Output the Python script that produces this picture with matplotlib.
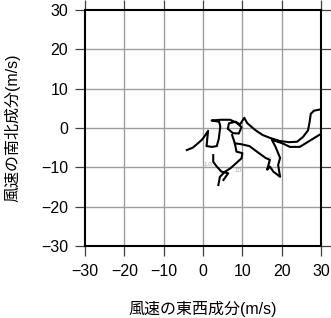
import matplotlib
matplotlib.use("Agg")
import matplotlib.pyplot as plt

plt.rcParams['font.family'] = ['Liberation Sans', 'Noto Sans CJK JP', 'DejaVu Sans']

# hodograph (u: east-west, v: north-south), m/s
u_main = [-4.1, -2.6, -1.3, -0.2, 0.6, 1.3, 1.1, 0.9, 2.3, 3.5, 4.0, 4.2, 4.4, 4.1,
          2.2, 4.5, 6.9, 8.6, 9.8, 9.1, 7.6, 6.3, 6.6, 8.3, 9.4, 10.5,
          11.2, 12.2, 13.4, 15.2, 17.0, 19.5, 21.8, 23.9, 25.4, 26.7, 27.1, 27.4, 28.2, 29.7]
v_main = [-5.6, -5.0, -3.9, -2.9, -1.8, -0.7, -2.6, -4.6, -4.8, -4.6, -2.8, -1.2, 0.4, 1.6,
          1.9, 2.1, 2.1, 1.3, 0.2, -1.4, -1.3, -0.2, 1.2, 1.6, 0.9, 2.6,
          1.3, 0.4, -0.6, -1.8, -2.5, -3.3, -3.6, -3.5, -2.3, -0.6, 1.5, 3.6, 4.4, 4.7]

u_wedge = [8.1, 9.6, 11.8, 14.1, 15.9, 17.0, 16.3, 17.0, 17.9, 19.6, 19.1, 19.6, 18.4, 17.5,
           20.2, 22.1, 24.6, 27.2, 29.0, 30.0]
v_wedge = [-3.9, -4.1, -4.6, -6.3, -7.6, -8.1, -10.6, -9.8, -11.1, -12.4, -9.4, -7.6, -4.7, -3.0,
           -3.9, -4.8, -4.8, -3.2, -2.1, -1.5]

u_drop = [7.4, 8.1, 8.5, 10.0, 9.8, 6.9, 5.6, 4.3, 3.9]
v_drop = [-1.8, -3.9, -6.0, -6.4, -7.7, -10.3, -11.1, -12.4, -14.5]

u_hook = [2.6, 2.6, 3.5, 4.7, 6.4, 5.2]
v_hook = [-6.9, -8.6, -9.8, -11.1, -11.5, -13.2]

label_u = [1.2, 8.9, 17.0]
label_v = [-9.4, -10.8, -8.0]
label_txt = ["1.0", "10", "0"]

ticks = [-30, -20, -10, 0, 10, 20, 30]

fig = plt.figure(figsize=(3.31, 3.18), dpi=100)
ax = fig.add_axes([0.2568, 0.2264, 0.713, 0.7421])

for t in ticks[1:-1]:
    ax.axvline(t, color='0.62', lw=1.0, zorder=1)
    ax.axhline(t, color='0.62', lw=1.0, zorder=1)

for uu, vv in [(u_main, v_main), (u_wedge, v_wedge), (u_drop, v_drop), (u_hook, v_hook)]:
    ax.plot(uu, vv, color='black', lw=1.5, zorder=3)

for x, y, s in zip(label_u, label_v, label_txt):
    ax.text(x, y, s, fontsize=4.5, color='0.65', ha='center', va='center', zorder=2)

ax.set_xlim(-30, 30)
ax.set_ylim(-30, 30)
ax.set_xticks(ticks)
ax.set_yticks(ticks)
ax.set_xticklabels([str(t).replace('-', '\u2212') for t in ticks])
ax.set_yticklabels([str(t).replace('-', '\u2212') for t in ticks])
ax.tick_params(axis='both', which='both', direction='out', length=7, width=0.9,
               color='0.25', labelsize=11.5, top=True, right=True)
ax.tick_params(axis='x', pad=6)
ax.tick_params(axis='y', pad=5)
for sp in ax.spines.values():
    sp.set_linewidth(1.5)
    sp.set_color('black')

ax.set_xlabel('風速の東西成分(m/s)', fontsize=11.5, labelpad=16)
ax.set_ylabel('風速の南北成分(m/s)', fontsize=11.5, labelpad=15)

fig.savefig('out.png', dpi=100)
